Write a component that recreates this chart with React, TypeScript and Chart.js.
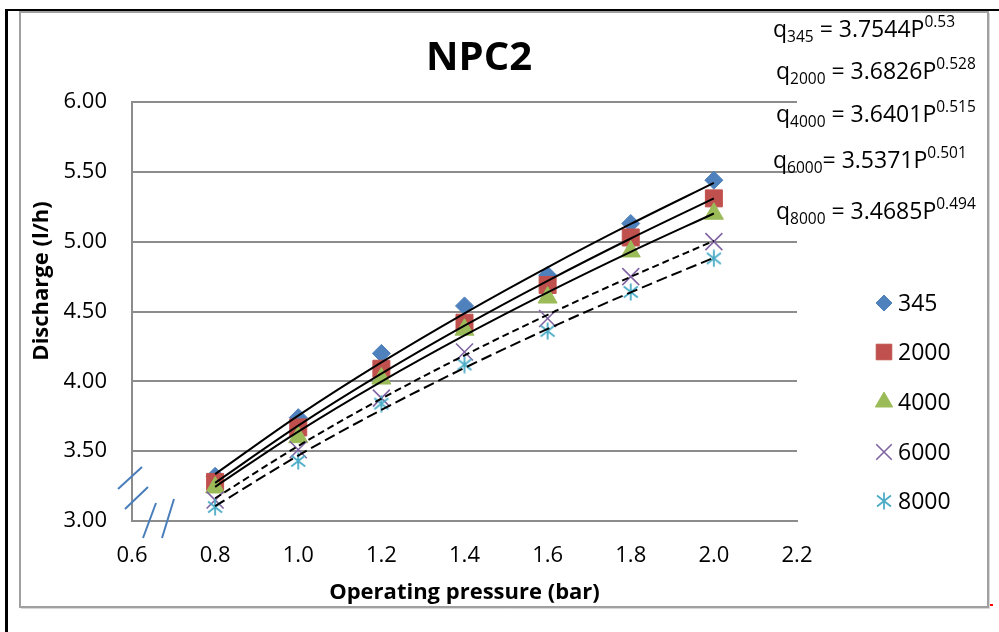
import React, { useEffect, useRef } from "react";
import { Chart, registerables } from "chart.js";
import { drawPoint } from "chart.js/helpers";

Chart.register(...registerables);

// ---------- data ----------
const pressure = [0.8, 1.0, 1.2, 1.4, 1.6, 1.8, 2.0];
const seriesNames = ["345", "2000", "4000", "6000", "8000"];
const q345 = [3.32, 3.74, 4.2, 4.54, 4.76, 5.13, 5.44];
const q2000 = [3.28, 3.67, 4.09, 4.42, 4.69, 5.03, 5.31];
const q4000 = [3.24, 3.6, 4.02, 4.37, 4.6, 4.93, 5.2];
const q6000 = [3.15, 3.51, 3.88, 4.21, 4.45, 4.75, 5.0];
const q8000 = [3.1, 3.43, 3.84, 4.12, 4.36, 4.64, 4.88];
const seriesValues = [q345, q2000, q4000, q6000, q8000];
// power-law trendline coefficients q = a * P^b (as printed on the chart)
const coefA = [3.7544, 3.6826, 3.6401, 3.5371, 3.4685];
const coefB = [0.53, 0.528, 0.515, 0.501, 0.494];
const eqA = ["3.7544", "3.6826", "3.6401", "3.5371", "3.4685"];
const eqExp = ["0.53", "0.528", "0.515", "0.501", "0.494"];
const xTicks = [0.6, 0.8, 1.0, 1.2, 1.4, 1.6, 1.8, 2.0, 2.2];
const yTicks = [3.0, 3.5, 4.0, 4.5, 5.0, 5.5, 6.0];
const chartTitle = "NPC2";
const xTitle = "Operating pressure (bar)";
const yTitle = "Discharge (l/h)";

// ---------- styles ----------
const FONT = '"Open Sans", "Noto Sans", sans-serif';
const colors = ["#4F81BD", "#C0504D", "#9BBB59", "#8064A2", "#4BACC6"];
const dashes: number[][] = [[], [], [], [7, 4], [11, 5]];

function makeAsterisk(color: string): HTMLCanvasElement {
  const c = document.createElement("canvas");
  const s = 18;
  c.width = s;
  c.height = s;
  const g = c.getContext("2d")!;
  g.strokeStyle = color;
  g.lineWidth = 1.8;
  g.beginPath();
  g.moveTo(9, 0.5);
  g.lineTo(9, 17.5);
  g.moveTo(2, 3.5);
  g.lineTo(16, 14.5);
  g.moveTo(16, 3.5);
  g.lineTo(2, 14.5);
  g.stroke();
  return c;
}

export default function App() {
  const ref = useRef<HTMLCanvasElement | null>(null);

  useEffect(() => {
    const canvas = ref.current!;
    const asterisk = makeAsterisk(colors[4]);
    const styles: any[] = ["rectRot", "rect", "triangle", "crossRot", asterisk];
    const radii = [9, 12, 11, 12, 9];
    const bws = [1, 1, 1, 1.6, 1];

    const scatterSets = seriesNames.map((name, k) => ({
      type: "scatter" as const,
      label: name,
      data: pressure.map((p, i) => ({ x: p, y: seriesValues[k][i] })),
      pointStyle: styles[k],
      pointRadius: radii[k],
      pointBackgroundColor: colors[k],
      pointBorderColor: colors[k],
      pointBorderWidth: bws[k],
      order: 10 - k,
    }));

    const trendSets = seriesNames.map((name, k) => ({
      type: "line" as const,
      label: "trend " + name,
      data: pressure.map((p) => ({ x: p, y: coefA[k] * Math.pow(p, coefB[k]) })),
      borderColor: "#000000",
      borderWidth: 2,
      borderDash: dashes[k],
      pointRadius: 0,
      cubicInterpolationMode: "monotone" as const,
      fill: false,
      order: 0,
    }));

    const decor = {
      id: "decor",
      beforeDraw(chart: any) {
        const ctx = chart.ctx;
        ctx.save();
        ctx.fillStyle = "#ffffff";
        ctx.fillRect(0, 0, chart.width, chart.height);
        // outer black lines
        ctx.fillStyle = "#000000";
        ctx.fillRect(5, 9, 994, 2);
        ctx.fillRect(5, 9, 3, 623);
        // gray chart frame
        ctx.strokeStyle = "#a0a0a0";
        ctx.lineWidth = 2;
        ctx.strokeRect(20, 12, 968, 595);
        ctx.strokeStyle = "#d8d8d8";
        ctx.lineWidth = 1;
        ctx.beginPath();
        ctx.moveTo(989.5, 13);
        ctx.lineTo(989.5, 608.5);
        ctx.lineTo(21, 608.5);
        ctx.stroke();
        ctx.fillStyle = "#ff0000";
        ctx.fillRect(990, 604, 3, 2);
        ctx.restore();
      },
      afterDraw(chart: any) {
        const ctx = chart.ctx;
        const area = chart.chartArea;
        ctx.save();
        // axis break marks
        ctx.strokeStyle = "#4A7EBB";
        ctx.lineWidth = 2;
        const L = area.left;
        const B = area.bottom;
        const marks = [
          [-14, -32, 10, -54],
          [-7, -12, 16, -34],
          [11, 17, 24, -18],
          [30, 17, 42, -22],
        ];
        ctx.beginPath();
        for (const m of marks) {
          ctx.moveTo(L + m[0], B + m[1]);
          ctx.lineTo(L + m[2], B + m[3]);
        }
        ctx.stroke();

        // title
        ctx.fillStyle = "#000000";
        ctx.textAlign = "center";
        ctx.textBaseline = "alphabetic";
        ctx.font = `bold 40px ${FONT}`;
        ctx.fillText(chartTitle, 479, 70);

        // axis titles
        ctx.font = `bold 22px ${FONT}`;
        ctx.fillText(xTitle, (area.left + area.right) / 2, 599);
        ctx.save();
        ctx.translate(48, 281);
        ctx.rotate(-Math.PI / 2);
        ctx.fillText(yTitle, 0, 0);
        ctx.restore();

        // equations
        ctx.textAlign = "left";
        const eqX = [773, 776, 776, 773, 776];
        const eqY = [37, 79, 122, 168, 219];
        for (let k = 0; k < seriesNames.length; k++) {
          let x = eqX[k];
          const y = eqY[k];
          ctx.font = `23px ${FONT}`;
          ctx.fillText("q", x, y);
          x += ctx.measureText("q").width;
          ctx.font = `15.5px ${FONT}`;
          ctx.fillText(seriesNames[k], x, y + 5);
          x += ctx.measureText(seriesNames[k]).width;
          ctx.font = `23px ${FONT}`;
          const mid = (k === 3 ? "= " : " = ") + eqA[k] + "P";
          ctx.fillText(mid, x, y);
          x += ctx.measureText(mid).width;
          ctx.font = `15.5px ${FONT}`;
          ctx.fillText(eqExp[k], x, y - 10);
        }

        // legend
        const legY = [303, 352, 402, 452, 501];
        for (let k = 0; k < seriesNames.length; k++) {
          ctx.fillStyle = colors[k];
          ctx.strokeStyle = colors[k];
          ctx.lineWidth = bws[k];
          drawPoint(ctx, { pointStyle: styles[k], radius: radii[k] - 1, rotation: 0, borderWidth: bws[k] } as any, 884, legY[k]);
          ctx.fillStyle = "#000000";
          ctx.font = `23px ${FONT}`;
          ctx.textBaseline = "middle";
          ctx.fillText(seriesNames[k], 898, legY[k] + 1);
          ctx.textBaseline = "alphabetic";
        }
        ctx.restore();
      },
    };

    const chart = new Chart(canvas, {
      data: { datasets: [...scatterSets, ...trendSets] as any },
      options: {
        responsive: false,
        animation: false,
        layout: { padding: { left: 20, top: 102, right: 202, bottom: 0 } },
        plugins: { legend: { display: false }, tooltip: { enabled: false }, title: { display: false } },
        scales: {
          x: {
            type: "linear",
            min: 0.6,
            max: 2.2,
            afterBuildTicks: (s: any) => {
              s.ticks = xTicks.map((v) => ({ value: v }));
            },
            afterFit: (s: any) => {
              s.height = 111;
            },
            ticks: {
              callback: (v: any) => Number(v).toFixed(1),
              color: "#000000",
              font: { family: FONT, size: 22 },
              padding: 22,
              autoSkip: false,
              maxRotation: 0,
            },
            grid: { display: false, drawTicks: false },
            border: { display: true, color: "#8c8c8c", width: 2 },
          },
          y: {
            type: "linear",
            min: 3,
            max: 6,
            afterBuildTicks: (s: any) => {
              s.ticks = yTicks.map((v) => ({ value: v }));
            },
            afterFit: (s: any) => {
              s.width = 112;
            },
            ticks: {
              callback: (v: any) => Number(v).toFixed(2),
              color: "#000000",
              font: { family: FONT, size: 22 },
              padding: 25,
            },
            grid: { color: "#8c8c8c", lineWidth: 2, drawTicks: false },
            border: { display: true, color: "#8c8c8c", width: 2 },
          },
        },
      } as any,
      plugins: [decor],
    });
    return () => chart.destroy();
  }, []);

  return (
    <div style={{ position: "absolute", left: 0, top: 0, width: 999, height: 632 }}>
      <canvas ref={ref} width={999} height={632} style={{ display: "block", width: 999, height: 632 }} />
    </div>
  );
}
